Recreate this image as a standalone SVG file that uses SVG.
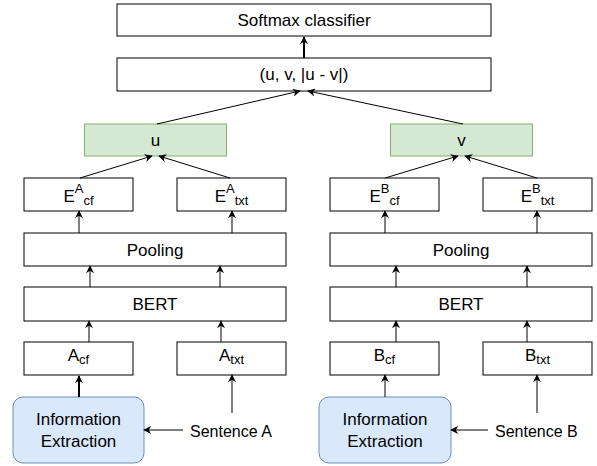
<svg xmlns="http://www.w3.org/2000/svg" width="597" height="466" viewBox="0 0 597 466">
<style>
text{font-family:"Liberation Sans",Arial,sans-serif;font-size:17px;fill:#000}
.box{fill:#fff;stroke:#000;stroke-width:1}
.green{fill:#d5e8d4;stroke:#82b366;stroke-width:1}
.blue{fill:#dae8fc;stroke:#6c8ebf;stroke-width:1}
.c{text-anchor:middle}
.edge{fill:none;stroke:#000;stroke-width:1;marker-end:url(#arr)}
.thick{stroke-width:2}
.s{font-size:13px}
.sent{font-size:16px}
</style>
<defs>
<marker id="arr" viewBox="0 0 10 10" refX="9" refY="5" markerWidth="8" markerHeight="8" markerUnits="userSpaceOnUse" orient="auto">
<path d="M0,0 L10,5 L0,10 L3,5 z" fill="#000"/>
</marker>
</defs>
<g id="softmax"><rect class="box" x="117" y="4" width="374" height="32"/><text class="c" x="304" y="26">Softmax classifier</text></g>
<g id="concat"><rect class="box" x="117" y="58" width="374" height="33"/><text class="c" x="304" y="80">(u, v, |u - v|)</text></g>
<g id="u"><rect class="green" x="84.5" y="124" width="142" height="32"/><text class="c" x="155.5" y="146">u</text></g>
<g id="v"><rect class="green" x="390.5" y="124" width="142" height="32"/><text class="c" x="461.5" y="146">v</text></g>
<g id="EAcf"><rect class="box" x="24" y="178" width="109" height="33"/><text class="c" x="78.5" y="202">E<tspan class="s" dy="-9.5">A</tspan><tspan class="s" dy="12.5">cf</tspan></text></g>
<g id="EAtxt"><rect class="box" x="177" y="178" width="109" height="33"/><text class="c" x="231.5" y="202">E<tspan class="s" dy="-9.5">A</tspan><tspan class="s" dy="12.5">txt</tspan></text></g>
<g id="EBcf"><rect class="box" x="330" y="178" width="109" height="33"/><text class="c" x="384.5" y="202">E<tspan class="s" dy="-9.5">B</tspan><tspan class="s" dy="12.5">cf</tspan></text></g>
<g id="EBtxt"><rect class="box" x="483" y="178" width="109" height="33"/><text class="c" x="537.5" y="202">E<tspan class="s" dy="-9.5">B</tspan><tspan class="s" dy="12.5">txt</tspan></text></g>
<g id="poolA"><rect class="box" x="24" y="233" width="262" height="33"/><text class="c" x="155" y="256">Pooling</text></g>
<g id="poolB"><rect class="box" x="330" y="233" width="262" height="33"/><text class="c" x="461" y="256">Pooling</text></g>
<g id="bertA"><rect class="box" x="24" y="287" width="262" height="34"/><text class="c" x="155" y="310">BERT</text></g>
<g id="bertB"><rect class="box" x="330" y="287" width="262" height="34"/><text class="c" x="461" y="310">BERT</text></g>
<g id="Acf"><rect class="box" x="24" y="342" width="109" height="33"/><text class="c" x="78.5" y="361">A<tspan class="s" dy="3">cf</tspan></text></g>
<g id="Atxt"><rect class="box" x="177" y="342" width="109" height="33"/><text class="c" x="231.5" y="361">A<tspan class="s" dy="3">txt</tspan></text></g>
<g id="Bcf"><rect class="box" x="330" y="342" width="109" height="33"/><text class="c" x="384.5" y="361">B<tspan class="s" dy="3">cf</tspan></text></g>
<g id="Btxt"><rect class="box" x="483" y="342" width="109" height="33"/><text class="c" x="537.5" y="361">B<tspan class="s" dy="3">txt</tspan></text></g>
<g id="ieA"><rect class="blue" x="13" y="397" width="131" height="66" rx="10"/><text class="c" x="78.5" y="425">Information</text><text class="c" x="78.5" y="447">Extraction</text></g>
<g id="ieB"><rect class="blue" x="319" y="397" width="132" height="66" rx="10"/><text class="c" x="385" y="425">Information</text><text class="c" x="385" y="447">Extraction</text></g>
<g id="sentA"><text class="sent" x="190" y="437">Sentence A</text></g>
<g id="sentB"><text class="sent" x="495" y="437">Sentence B</text></g>
<g id="connectors">
<path class="edge thick" d="M304,58 L304,37"/>
<path class="edge" d="M157,124 L300,91"/>
<path class="edge" d="M463,124 L308,91"/>
<path class="edge" d="M80,178 L152,156"/>
<path class="edge" d="M230,178 L159,156"/>
<path class="edge" d="M385,178 L458,156"/>
<path class="edge" d="M537,178 L465,156"/>
<path class="edge" d="M79,233 L79,211"/>
<path class="edge" d="M232,233 L232,211"/>
<path class="edge" d="M385,233 L385,211"/>
<path class="edge" d="M537,233 L537,211"/>
<path class="edge" d="M90,287 L90,266"/>
<path class="edge" d="M220,287 L220,266"/>
<path class="edge" d="M396,287 L396,266"/>
<path class="edge" d="M527,287 L527,266"/>
<path class="edge" d="M89,342 L89,321"/>
<path class="edge" d="M221,342 L221,321"/>
<path class="edge" d="M396,342 L396,321"/>
<path class="edge" d="M527,342 L527,321"/>
<path class="edge thick" d="M79,397 L79,376"/>
<path class="edge" d="M385,397 L385,375"/>
<path class="edge" d="M183,430 L144,430"/>
<path class="edge" d="M488,430 L451,430"/>
<path class="edge" d="M232,413 L232,375"/>
<path class="edge" d="M537,413 L537,375"/>
</g>
</svg>
